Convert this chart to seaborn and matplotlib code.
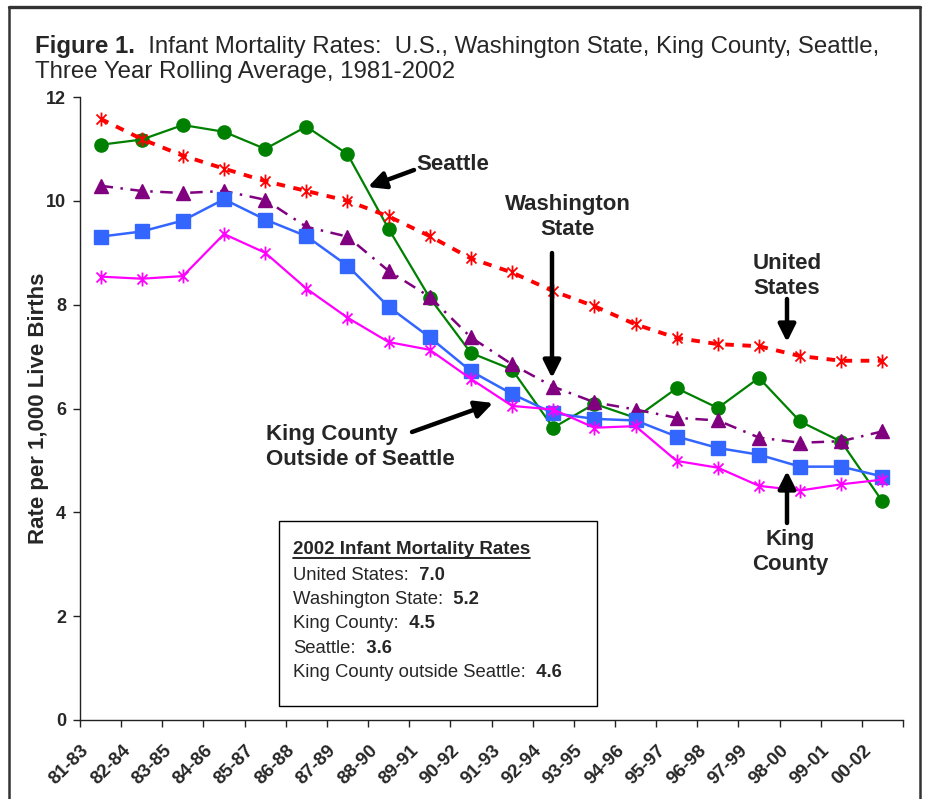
import numpy as np
import seaborn as sns
import matplotlib.pyplot as plt
from matplotlib.lines import Line2D
from matplotlib.patches import Rectangle
from matplotlib.path import Path
from matplotlib.text import Annotation
import matplotlib.transforms as mtransforms

periods = ['81-83', '82-84', '83-85', '84-86', '85-87', '86-88', '87-89', '88-90',
           '89-91', '90-92', '91-93', '92-94', '93-95', '94-96', '95-97', '96-98',
           '97-99', '98-00', '99-01', '00-02']

us      = [11.58, 11.19, 10.87, 10.62, 10.38, 10.19, 10.00, 9.70, 9.32, 8.89,
           8.62, 8.26, 7.97, 7.62, 7.36, 7.24, 7.20, 7.01, 6.92, 6.92]
wa      = [10.29, 10.19, 10.15, 10.19, 10.02, 9.50, 9.31, 8.65, 8.15, 7.37,
           6.85, 6.42, 6.12, 5.98, 5.82, 5.77, 5.44, 5.34, 5.37, 5.56]
kc      = [9.31, 9.41, 9.62, 10.03, 9.64, 9.32, 8.75, 7.96, 7.37, 6.72,
           6.28, 5.91, 5.80, 5.77, 5.46, 5.24, 5.11, 4.88, 4.88, 4.69]
seattle = [11.08, 11.18, 11.46, 11.33, 11.00, 11.43, 10.90, 9.46, 8.13, 7.07,
           6.75, 5.63, 6.09, 5.82, 6.39, 6.01, 6.59, 5.75, 5.36, 4.21]
kc_out  = [8.54, 8.50, 8.55, 9.36, 9.00, 8.31, 7.75, 7.28, 7.13, 6.57,
           6.05, 5.98, 5.63, 5.66, 4.99, 4.86, 4.51, 4.42, 4.54, 4.63]

box_title = '2002 Infant Mortality Rates'
box_names = ['United States:', 'Washington State:', 'King County:', 'Seattle:',
             'King County outside Seattle:']
box_values = ['7.0', '5.2', '4.5', '3.6', '4.6']

W, H = 925, 799

sns.set_style('ticks')
plt.rcParams['font.family'] = ['Liberation Sans', 'DejaVu Sans']


def fp(x, y):
    # pixel position (from top-left) -> figure fraction
    return (x / W, 1 - y / H)


# excel style "*" marker: vertical bar plus an X
d = 0.72
star = Path([(0, -1), (0, 1), (-d, -d), (d, d), (-d, d), (d, -d)],
            [Path.MOVETO, Path.LINETO] * 3)

fig = plt.figure(figsize=(W / 100, H / 100), dpi=100)
ax = fig.add_axes([80 / W, 1 - 720 / H, 823 / W, 623 / H])

# (values, color, marker, linestyle, linewidth, markersize, mew)
series = [
    (seattle, '#008000', 'o', '-', 1.6, 9.5, 1.0),
    (wa, '#800080', '^', (0, (5, 3, 1, 3)), 1.8, 10, 1.0),
    (kc, '#3366FF', 's', '-', 1.8, 9.5, 1.0),
    (kc_out, '#FF00FF', star, '-', 1.6, 10, 1.3),
    (us, '#FF0000', star, (0, (2.2, 2.2)), 2.8, 10, 1.3),
]
for vals, col, mk, ls, lw, ms, mew in series:
    sns.lineplot(x=periods, y=vals, ax=ax, sort=False, color=col, marker=mk,
                 linestyle=ls, linewidth=lw, markersize=ms, markeredgecolor=col,
                 markeredgewidth=mew, markerfacecolor=col)

ax.set_xlim(-0.5, len(periods) - 0.5)
ax.set_ylim(0, 12)
ax.set_yticks(range(0, 13, 2))
ax.set_xticks(range(len(periods)))
ax.set_xticklabels(periods)
ax.set_xticks(np.arange(-0.5, len(periods), 1), minor=True)
ax.set_xlabel('')
ax.set_ylabel('Rate per 1,000 Live Births', fontsize=16, fontweight='bold', labelpad=-2)
sns.despine(ax=ax)
for s in ['left', 'bottom']:
    ax.spines[s].set_color('#222222')
    ax.spines[s].set_linewidth(1.0)
ax.tick_params(axis='x', which='major', length=0, pad=16, labelsize=13.5)
ax.tick_params(axis='x', which='minor', length=5, width=1, color='#222222', direction='out')
ax.tick_params(axis='y', length=5, width=1, color='#222222', direction='out', pad=5,
               labelsize=13)
for lab in ax.get_yticklabels():
    lab.set_fontweight('bold')
off = mtransforms.ScaledTranslation(-20 / 100, 0, fig.dpi_scale_trans)
for lab in ax.get_xticklabels():
    lab.set_fontweight('bold')
    lab.set_rotation(45)
    lab.set_ha('right')
    lab.set_va('top')
    lab.set_rotation_mode('anchor')
    lab.set_transform(lab.get_transform() + off)

# title
t1 = fig.text(*fp(35, 53), 'Figure 1.', fontsize=17.3, fontweight='bold', va='baseline')
fig.add_artist(Annotation('  Infant Mortality Rates:  U.S., Washington State, King County, Seattle,',
                          xy=(1, 0), xycoords=t1, va='bottom', ha='left', fontsize=17.3))
fig.text(*fp(35, 78), 'Three Year Rolling Average, 1981-2002', fontsize=17.3, va='baseline')

# series labels with arrows
lab_kw = dict(fontsize=16, fontweight='bold', xycoords='figure fraction',
              textcoords='figure fraction')
arrow = dict(arrowstyle='-|>', lw=3.2, color='black', mutation_scale=26, shrinkA=0, shrinkB=0)
ax.annotate('Seattle', xy=fp(416, 165), ha='left', va='center', **lab_kw)
ax.annotate('', xy=fp(368, 187), xytext=fp(414, 170), arrowprops=arrow, **lab_kw)
ax.annotate('Washington\nState', xy=fp(568, 217), ha='center', va='center',
            linespacing=1.3, **lab_kw)
ax.annotate('', xy=fp(552, 378), xytext=fp(552, 253), arrowprops=arrow, **lab_kw)
ax.annotate('United\nStates', xy=fp(787, 276), ha='center', va='center',
            linespacing=1.3, **lab_kw)
ax.annotate('', xy=fp(787, 342), xytext=fp(787, 299), arrowprops=arrow, **lab_kw)
ax.annotate('King\nCounty', xy=fp(790, 552), ha='center', va='center',
            linespacing=1.3, **lab_kw)
ax.annotate('', xy=fp(787, 471), xytext=fp(787, 523), arrowprops=arrow, **lab_kw)
ax.annotate('King County\nOutside of Seattle', xy=fp(266, 447), ha='left', va='center',
            linespacing=1.3, **lab_kw)
ax.annotate('', xy=fp(493, 403), xytext=fp(412, 432), arrowprops=arrow, **lab_kw)

# summary box
x0, y0 = fp(279, 706)
fig.add_artist(Rectangle((x0, y0), 318 / W, 185 / H, transform=fig.transFigure,
                         facecolor='white', edgecolor='black', lw=1.0, zorder=5))
ht = fig.text(*fp(293, 554), box_title, fontsize=13.5, fontweight='bold', va='baseline',
              zorder=6)
for i, (nm, v) in enumerate(zip(box_names, box_values)):
    t = fig.text(*fp(293, 580 + 24.2 * i), nm, fontsize=13.3, va='baseline', zorder=6)
    fig.add_artist(Annotation('  ' + v, xy=(1, 0), xycoords=t, va='bottom', ha='left',
                              fontsize=13.3, fontweight='bold', zorder=6))

fig.canvas.draw()
bb = ht.get_window_extent().transformed(fig.transFigure.inverted())
uy = 1 - 558 / H
fig.add_artist(Line2D([bb.x0, bb.x1], [uy, uy], transform=fig.transFigure,
                      color='black', lw=1.2, zorder=6))

# outer frame
fc = '#333333'
fig.add_artist(Line2D([9 / W, 9 / W], [0, 1 - 7 / H], transform=fig.transFigure, color=fc, lw=1.8))
fig.add_artist(Line2D([920 / W, 920 / W], [0, 1 - 7 / H], transform=fig.transFigure, color=fc, lw=1.8))
fig.add_artist(Line2D([9 / W, 920 / W], [1 - 7 / H, 1 - 7 / H], transform=fig.transFigure, color=fc, lw=2.4))

fig.savefig('out.png', dpi=100)
